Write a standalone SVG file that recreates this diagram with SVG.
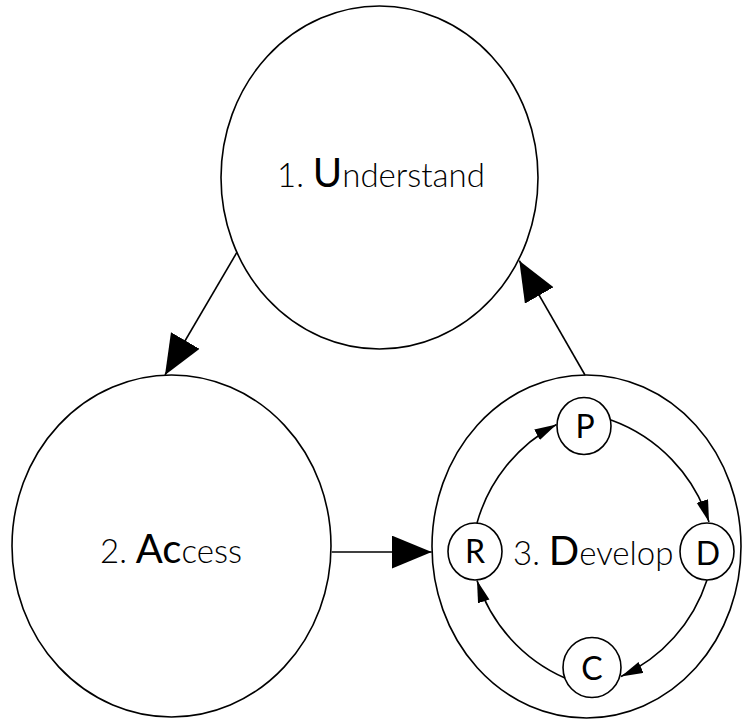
<svg xmlns="http://www.w3.org/2000/svg" width="743" height="719" viewBox="0 0 743 719">
<style>
.shape{fill:#fff;stroke:#000;stroke-width:1.6}
.edge{fill:none;stroke:#000;stroke-width:1.6}
.lbl{font-family:Lato,"Open Sans","Liberation Sans",sans-serif;font-weight:300;font-size:33px;fill:#000}
.big{font-size:40px;font-weight:400}
.small{font-family:Lato,"Open Sans","Liberation Sans",sans-serif;font-weight:400;font-size:32px;fill:#000;text-anchor:middle}
</style>
<defs>
<marker id="bigArrow" markerUnits="userSpaceOnUse" markerWidth="42" markerHeight="34" refX="40" refY="16.5" orient="auto">
<path d="M0,0 L40,16.5 L0,33 z" fill="#000"/>
</marker>
<marker id="smallArrow" markerUnits="userSpaceOnUse" markerWidth="24" markerHeight="14" refX="22" refY="6" orient="auto">
<path d="M0,0 L22,6 L0,12 z" fill="#000"/>
</marker>
</defs>
<g id="node-understand">
<ellipse class="shape" cx="379.5" cy="177.5" rx="158.5" ry="171.5"/>
<text class="lbl" x="277" y="187">1. <tspan class="big">U</tspan>nderstand</text>
</g>
<g id="node-access">
<ellipse class="shape" cx="171.5" cy="546" rx="159.5" ry="171"/>
<text class="lbl" x="100" y="563">2. <tspan class="big">Ac</tspan>cess</text>
</g>
<g id="node-develop">
<ellipse class="shape" cx="586.5" cy="546.5" rx="154.5" ry="171.5"/>
<text class="lbl" x="513" y="565">3. <tspan class="big">D</tspan>evelop</text>
</g>
<g id="node-p">
<ellipse class="shape" cx="584" cy="426" rx="27" ry="28.5"/>
<text class="small" x="585" y="437.5">P</text>
</g>
<g id="node-r">
<ellipse class="shape" cx="475" cy="551.5" rx="27" ry="28.5"/>
<text class="small" x="475" y="563">R</text>
</g>
<g id="node-d">
<ellipse class="shape" cx="707" cy="551.5" rx="27" ry="28.5"/>
<text class="small" x="708" y="565">D</text>
</g>
<g id="node-c">
<ellipse class="shape" cx="592" cy="667.5" rx="29" ry="30"/>
<text class="small" x="592" y="680">C</text>
</g>
<g id="connectors">
<path class="edge" d="M236.7,252.7 L165,375" marker-end="url(#bigArrow)"/>
<path class="edge" d="M331.7,552 L431.7,552" marker-end="url(#bigArrow)"/>
<path class="edge" d="M585,375 L519.3,260.7" marker-end="url(#bigArrow)"/>
<path class="edge" d="M477,523 A160 160 0 0 1 556.5,424.5" marker-end="url(#smallArrow)"/>
<path class="edge" d="M611,420 A160 160 0 0 1 709,522" marker-end="url(#smallArrow)"/>
<path class="edge" d="M707,580 A160 160 0 0 1 621,676.5" marker-end="url(#smallArrow)"/>
<path class="edge" d="M565,678 A160 160 0 0 1 477,580.5" marker-end="url(#smallArrow)"/>
</g>
</svg>
